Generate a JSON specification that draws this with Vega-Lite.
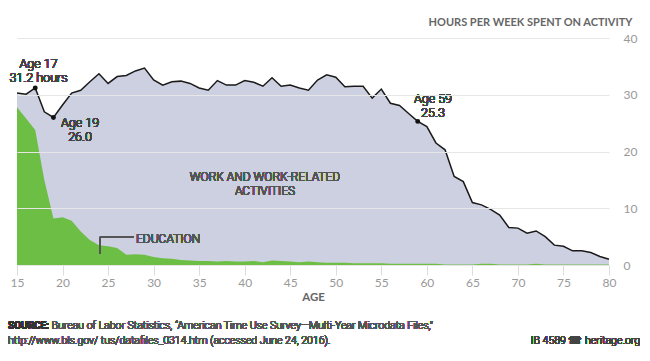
{
  "$schema": "https://vega.github.io/schema/vega-lite/v6.json",
  "width": 592,
  "height": 227,
  "autosize": {"type": "none"},
  "padding": {"left": 17, "top": 38, "right": 41, "bottom": 96},
  "background": "white",
  "config": {"view": {"stroke": null}, "font": "Lato", "text": {"font": "Roboto", "fontWeight": 300, "strokeWidth": 0}},
  "data": {"values": [
    {"age": 15, "total": 30.3, "edu": 27.8},
    {"age": 16, "total": 30.1, "edu": 25.8},
    {"age": 17, "total": 31.2, "edu": 23.8},
    {"age": 18, "total": 27.0, "edu": 15.0},
    {"age": 19, "total": 26.0, "edu": 8.2},
    {"age": 20, "total": 28.2, "edu": 8.4},
    {"age": 21, "total": 30.3, "edu": 7.8},
    {"age": 22, "total": 30.8, "edu": 5.9},
    {"age": 23, "total": 32.3, "edu": 4.4},
    {"age": 24, "total": 33.7, "edu": 3.5},
    {"age": 25, "total": 32.0, "edu": 3.3},
    {"age": 26, "total": 33.2, "edu": 3.0},
    {"age": 27, "total": 33.4, "edu": 1.8},
    {"age": 28, "total": 34.2, "edu": 1.9},
    {"age": 29, "total": 34.7, "edu": 1.8},
    {"age": 30, "total": 32.6, "edu": 1.4},
    {"age": 31, "total": 31.7, "edu": 1.2},
    {"age": 32, "total": 32.3, "edu": 1.1},
    {"age": 33, "total": 32.4, "edu": 0.9},
    {"age": 34, "total": 32.0, "edu": 0.8},
    {"age": 35, "total": 31.2, "edu": 0.7},
    {"age": 36, "total": 30.8, "edu": 0.7},
    {"age": 37, "total": 32.5, "edu": 0.6},
    {"age": 38, "total": 31.7, "edu": 0.7},
    {"age": 39, "total": 31.7, "edu": 0.6},
    {"age": 40, "total": 32.5, "edu": 0.6},
    {"age": 41, "total": 32.2, "edu": 0.7},
    {"age": 42, "total": 31.5, "edu": 0.5},
    {"age": 43, "total": 33.0, "edu": 0.8},
    {"age": 44, "total": 31.5, "edu": 0.7},
    {"age": 45, "total": 31.7, "edu": 0.6},
    {"age": 46, "total": 31.2, "edu": 0.5},
    {"age": 47, "total": 30.8, "edu": 0.6},
    {"age": 48, "total": 32.6, "edu": 0.5},
    {"age": 49, "total": 33.5, "edu": 0.4},
    {"age": 50, "total": 33.1, "edu": 0.4},
    {"age": 51, "total": 31.4, "edu": 0.4},
    {"age": 52, "total": 31.5, "edu": 0.3},
    {"age": 53, "total": 31.5, "edu": 0.3},
    {"age": 54, "total": 29.4, "edu": 0.3},
    {"age": 55, "total": 31.0, "edu": 0.3},
    {"age": 56, "total": 28.5, "edu": 0.2},
    {"age": 57, "total": 28.1, "edu": 0.2},
    {"age": 58, "total": 26.7, "edu": 0.2},
    {"age": 59, "total": 25.3, "edu": 0.2},
    {"age": 60, "total": 24.4, "edu": 0.2},
    {"age": 61, "total": 21.5, "edu": 0.2},
    {"age": 62, "total": 20.3, "edu": 0.1},
    {"age": 63, "total": 15.6, "edu": 0.1},
    {"age": 64, "total": 14.7, "edu": 0.1},
    {"age": 65, "total": 11.0, "edu": 0.1},
    {"age": 66, "total": 10.6, "edu": 0.2},
    {"age": 67, "total": 9.8, "edu": 0.2},
    {"age": 68, "total": 8.8, "edu": 0.1},
    {"age": 69, "total": 6.6, "edu": 0.1},
    {"age": 70, "total": 6.5, "edu": 0.1},
    {"age": 71, "total": 5.6, "edu": 0.1},
    {"age": 72, "total": 6.0, "edu": 0.2},
    {"age": 73, "total": 5.0, "edu": 0.1},
    {"age": 74, "total": 3.5, "edu": 0.1},
    {"age": 75, "total": 3.3, "edu": 0.1},
    {"age": 76, "total": 2.5, "edu": 0.1},
    {"age": 77, "total": 2.5, "edu": 0.1},
    {"age": 78, "total": 2.2, "edu": 0.1},
    {"age": 79, "total": 1.5, "edu": 0.1},
    {"age": 80, "total": 1.0, "edu": 0.1}
  ]},
  "layer": [
    {
      "mark": {"type": "area", "color": "#cdd0e0"},
      "encoding": {
        "x": {"field": "age", "type": "quantitative",
          "scale": {"domain": [15, 80], "nice": false, "zero": false},
          "axis": {"title": "AGE", "values": [15,20,25,30,35,40,45,50,55,60,65,70,75,80],
            "grid": false, "domain": false, "tickColor": "#dddddd", "tickSize": 10,
            "labelPadding": 2, "labelColor": "#999999", "labelFontSize": 12, "labelFlush": false,
            "labelOverlap": false, "titleFontSize": 11.5, "titleFontWeight": "bold",
            "titleColor": "#666666", "titleY": 32, "titleBaseline": "middle"}},
        "y": {"field": "total", "type": "quantitative",
          "scale": {"domain": [0, 40], "nice": false},
          "axis": {"orient": "right", "title": "HOURS PER WEEK SPENT ON ACTIVITY",
            "titleAngle": 0, "titleAlign": "right", "titleBaseline": "middle",
            "titleX": 23, "titleY": -16, "titleFontSize": 11, "titleFontWeight": "bold",
            "titleColor": "#666666", "values": [0, 10, 20, 30, 40], "domain": false,
            "ticks": false, "tickSize": 0, "labelPadding": 14, "gridColor": "#e6e6e6",
            "labelColor": "#999999", "labelFontSize": 12, "zindex": 1}}
      }
    },
    {
      "mark": {"type": "area", "color": "#6dbe45"},
      "encoding": {
        "x": {"field": "age", "type": "quantitative"},
        "y": {"field": "edu", "type": "quantitative"}
      }
    },
    {
      "mark": {"type": "line", "color": "#1a1a1a", "strokeWidth": 1.5},
      "encoding": {
        "x": {"field": "age", "type": "quantitative"},
        "y": {"field": "total", "type": "quantitative"}
      }
    },
    {
      "transform": [{"filter": "datum.age == 17 || datum.age == 19 || datum.age == 59"}],
      "mark": {"type": "point", "filled": true, "color": "#111111", "size": 24, "opacity": 1},
      "encoding": {
        "x": {"field": "age", "type": "quantitative"},
        "y": {"field": "total", "type": "quantitative"}
      }
    },
    {
      "mark": {"type": "text", "fontSize": 12.5, "fill": "#444444", "align": "center", "baseline": "middle", "lineHeight": 14},
      "encoding": {
        "x": {"datum": 17.36, "type": "quantitative"},
        "y": {"datum": 35.4, "type": "quantitative"},
        "text": {"value": ["Age 17", "31.2 hours"]}
      }
    },
    {
      "mark": {"type": "text", "fontSize": 12.5, "fill": "#444444", "align": "center", "baseline": "middle", "lineHeight": 14},
      "encoding": {
        "x": {"datum": 21.92, "type": "quantitative"},
        "y": {"datum": 25.1, "type": "quantitative"},
        "text": {"value": ["Age 19", "26.0"]}
      }
    },
    {
      "mark": {"type": "text", "fontSize": 12.5, "fill": "#444444", "align": "center", "baseline": "middle", "lineHeight": 14},
      "encoding": {
        "x": {"datum": 60.67, "type": "quantitative"},
        "y": {"datum": 29.25, "type": "quantitative"},
        "text": {"value": ["Age 59", "25.3"]}
      }
    },
    {
      "mark": {"type": "text", "fontSize": 12, "fill": "#555555", "align": "center", "baseline": "middle", "lineHeight": 14},
      "encoding": {
        "x": {"datum": 42.23, "type": "quantitative"},
        "y": {"datum": 15.5, "type": "quantitative"},
        "text": {"value": ["WORK AND WORK-RELATED", "ACTIVITIES"]}
      }
    },
    {
      "mark": {"type": "text", "fontSize": 12, "fill": "#555555", "align": "left", "baseline": "middle"},
      "encoding": {
        "x": {"datum": 28.07, "type": "quantitative"},
        "y": {"datum": 4.58, "type": "quantitative"},
        "text": {"value": "EDUCATION"}
      }
    },
    {
      "mark": {"type": "rule", "color": "#555555", "strokeWidth": 1},
      "encoding": {
        "x": {"datum": 24.11, "type": "quantitative"},
        "x2": {"datum": 27.77},
        "y": {"datum": 4.88, "type": "quantitative"}
      }
    },
    {
      "mark": {"type": "rule", "color": "#555555", "strokeWidth": 1},
      "encoding": {
        "x": {"datum": 24.11, "type": "quantitative"},
        "y": {"datum": 4.88, "type": "quantitative"},
        "y2": {"datum": 1.94}
      }
    },
    {
      "mark": {"type": "text", "fontSize": 10, "fontWeight": "bold", "fill": "#333333", "align": "left", "baseline": "middle"},
      "encoding": {
        "x": {"datum": 14.01, "type": "quantitative"},
        "y": {"datum": -10.75, "type": "quantitative"},
        "text": {"value": "SOURCE:"}
      }
    },
    {
      "mark": {"type": "text", "fontSize": 10.5, "fill": "#555555", "align": "left", "baseline": "middle"},
      "encoding": {
        "x": {"datum": 18.8, "type": "quantitative"},
        "y": {"datum": -10.75, "type": "quantitative"},
        "text": {"value": "Bureau of Labor Statistics, “American Time Use Survey—Multi-Year Microdata Files,”"}
      }
    },
    {
      "mark": {"type": "text", "fontSize": 10.5, "fill": "#555555", "align": "left", "baseline": "middle"},
      "encoding": {
        "x": {"datum": 14.01, "type": "quantitative"},
        "y": {"datum": -13.4, "type": "quantitative"},
        "text": {"value": "http://www.bls.gov/ tus/datafiles_0314.htm (accessed June 24, 2016)."}
      }
    },
    {
      "mark": {"type": "text", "fontSize": 10.5, "fill": "#444444", "align": "right", "baseline": "middle"},
      "encoding": {
        "x": {"datum": 83.41, "type": "quantitative"},
        "y": {"datum": -13.4, "type": "quantitative"},
        "text": {"value": "IB 4589 ☎ heritage.org"}
      }
    }
  ]
}
